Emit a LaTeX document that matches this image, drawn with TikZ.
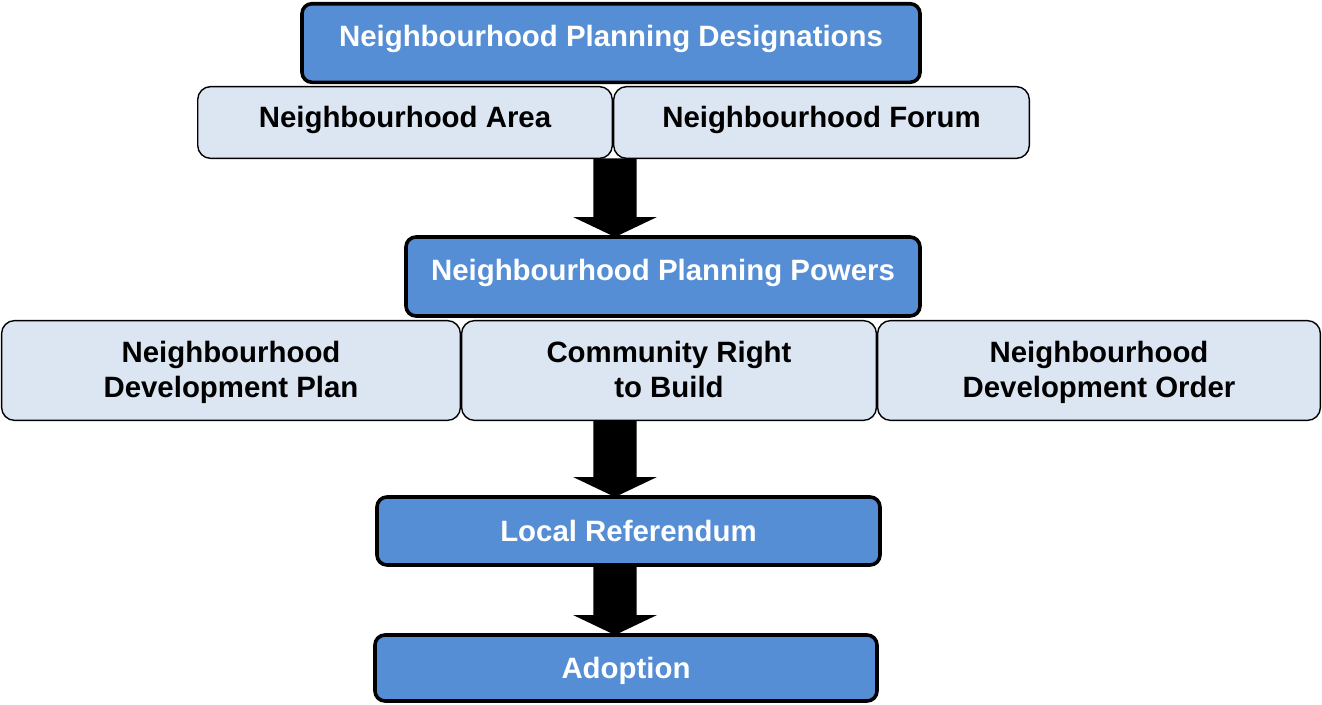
\documentclass[tikz,border=0pt]{standalone}
\usepackage{fontspec}
\setmainfont{Liberation Sans}
\usetikzlibrary{calc}
\definecolor{stageblue}{RGB}{85,142,213}
\definecolor{paleblue}{RGB}{220,230,242}

% solid block arrow pointing down from #1 to #2
\newcommand\blockarrow[2]{%
  \fill[flow] let \p1=(#1), \p2=(#2) in
    (\x1-21.7pt,\y1) -- (\x1-21.7pt,\y2+20pt) -- (\x1-42pt,\y2+20pt) --
    (\x1,\y2) -- (\x1+42pt,\y2+20pt) -- (\x1+21.7pt,\y2+20pt) --
    (\x1+21.7pt,\y1) -- cycle;}

\begin{document}
\begin{tikzpicture}[x=1pt,y=-1pt,
  box/.style={rectangle, outer sep=0pt, inner sep=0pt,
    font=\fontsize{29.4}{35.3}\selectfont\bfseries},
  stage/.style={box, draw=black, line width=3.6pt, fill=stageblue,
    rounded corners=10pt, text=white, text height=21pt, text depth=0pt},
  item/.style={box, draw=black, line width=1.4pt, fill=paleblue,
    rounded corners=13pt, text=black, text height=21pt, text depth=12pt},
  itemtwo/.style={item, align=center, text height=56.3pt, text depth=2.3pt},
  flow/.style={fill=black}
]
\useasboundingbox (0,0) rectangle (1322,704);

% designations
\node[stage, text depth=15pt, minimum width=618pt, minimum height=78.6pt]
  (desig) at (611,43) {Neighbourhood Planning Designations};
\node[item, minimum width=414.6pt, minimum height=71.8pt]
  (area) at (405,122.5) {Neighbourhood Area};
\node[item, minimum width=415.6pt, minimum height=71.8pt]
  (forum) at (821.5,122.5) {Neighbourhood Forum};

% powers
\node[stage, text depth=13pt, minimum width=514pt, minimum height=79pt]
  (powers) at (663,276.5) {Neighbourhood Planning Powers};
\node[itemtwo, minimum width=458.8pt, minimum height=99.8pt]
  (ndp) at (231,370.5) {Neighbourhood\\Development Plan};
\node[itemtwo, minimum width=414.8pt, minimum height=99.8pt]
  (crb) at (669,370.5) {Community Right\\to Build};
\node[itemtwo, minimum width=442.8pt, minimum height=99.8pt]
  (ndo) at (1099,370.5) {Neighbourhood\\Development Order};

% final stages
\node[stage, minimum width=503pt, minimum height=68pt]
  (refer) at (628.5,531) {Local Referendum};
\node[stage, minimum width=502pt, minimum height=66pt]
  (adopt) at (626,668) {Adoption};

% arrows between the stages
\coordinate (axis) at (615,0);
\blockarrow{axis |- area.south}{axis |- powers.north}
\blockarrow{axis |- crb.south}{axis |- refer.north}
\blockarrow{axis |- refer.south}{axis |- adopt.north}
\end{tikzpicture}
\end{document}
